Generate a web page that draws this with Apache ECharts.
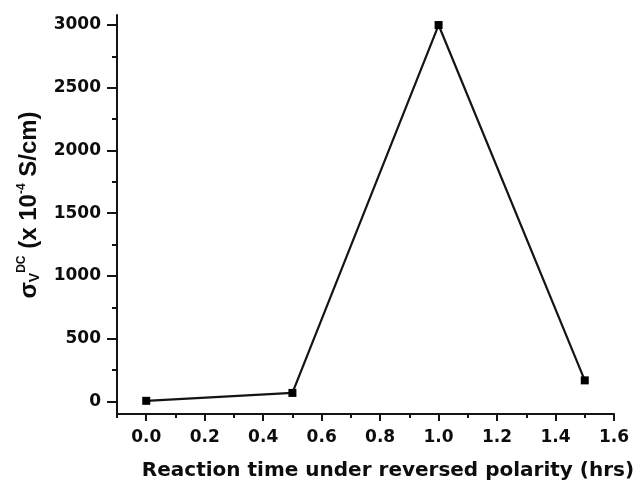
<!DOCTYPE html>
<html>
<head>
<meta charset="utf-8">
<script src="https://cdn.jsdelivr.net/npm/echarts@6/dist/echarts.min.js"></script>
<style>
  html, body { margin: 0; padding: 0; background: #fff; }
  #chart { width: 638px; height: 483px; }
</style>
</head>
<body>
<div id="chart"></div>
<script>
// Reaction time under reversed polarity (hrs)
const reactionTimes = [0.0, 0.5, 1.0, 1.5];
// DC conductivity, x 10^-4 S/cm
const conductivity = [5, 68, 3000, 168];

// Axis ticks and labels
const xMajorTicks = [0.0, 0.2, 0.4, 0.6, 0.8, 1.0, 1.2, 1.4, 1.6];
const xMinorTicks = [-0.1, 0.1, 0.3, 0.5, 0.7, 0.9, 1.1, 1.3, 1.5];
const yMajorTicks = [0, 500, 1000, 1500, 2000, 2500, 3000];
const yMinorTicks = [250, 750, 1250, 1750, 2250, 2750];

const INK = '#141414';
const tickFont = { fontFamily: 'DejaVu Sans', fontWeight: 'bold', fontSize: 17, color: '#0d0d0d' };

const xRange = { min: -0.1, max: 1.6 };
const yRange = { min: -100, max: 3080 };

const chart = echarts.init(document.getElementById('chart'), null, { renderer: 'canvas' });

chart.setOption({
  animation: false,
  backgroundColor: '#fff',
  grid: { left: 117, right: 24, top: 15, bottom: 69, containLabel: false, outerBoundsMode: 'none' },
  xAxis: [
    {
      type: 'value',
      min: xRange.min, max: xRange.max,
      name: 'Reaction time under reversed polarity (hrs)',
      nameLocation: 'middle',
      nameGap: 47,
      nameTextStyle: {
        fontFamily: 'DejaVu Sans', fontWeight: 'bold', fontSize: 20, color: '#0d0d0d',
        padding: [0, 0, 0, 45]
      },
      splitLine: { show: false },
      axisLine: { show: true, onZero: false, lineStyle: { color: INK, width: 2 } },
      axisTick: { show: true, inside: false, length: 7, customValues: xMajorTicks, lineStyle: { color: INK, width: 2 } },
      axisLabel: {
        show: true, margin: 15, customValues: xMajorTicks,
        formatter: v => v.toFixed(1), ...tickFont
      }
    },
    {
      type: 'value',
      min: xRange.min, max: xRange.max,
      position: 'bottom',
      splitLine: { show: false },
      axisLine: { show: false, onZero: false },
      axisTick: { show: true, inside: false, length: 4, customValues: xMinorTicks, lineStyle: { color: INK, width: 2 } },
      axisLabel: { show: false }
    }
  ],
  yAxis: [
    {
      type: 'value',
      min: yRange.min, max: yRange.max,
      splitLine: { show: false },
      axisLine: { show: true, onZero: false, lineStyle: { color: INK, width: 2 } },
      axisTick: { show: true, inside: false, length: 10, customValues: yMajorTicks, lineStyle: { color: INK, width: 2 } },
      axisLabel: { show: true, margin: 16, customValues: yMajorTicks, formatter: v => String(v), ...tickFont }
    },
    {
      type: 'value',
      min: yRange.min, max: yRange.max,
      position: 'left',
      splitLine: { show: false },
      axisLine: { show: false, onZero: false },
      axisTick: { show: true, inside: false, length: 5, customValues: yMinorTicks, lineStyle: { color: INK, width: 2 } },
      axisLabel: { show: false }
    }
  ],
  graphic: [
    {
      // rotated y-axis title: σ_V^DC (x 10^-4 S/cm)
      type: 'text',
      x: 29,
      y: 205,
      rotation: Math.PI / 2,
      style: {
        text: '{s|σ}{sub|V}{sup|DC}{m| (x 10}{sup|-4}{m| S/cm)}',
        align: 'center',
        verticalAlign: 'middle',
        fill: '#0d0d0d',
        rich: {
          s:   { fontFamily: 'Liberation Sans', fontWeight: 'bold', fontSize: 24, lineHeight: 26, fill: '#0d0d0d' },
          m:   { fontFamily: 'Liberation Sans', fontWeight: 'bold', fontSize: 24, lineHeight: 26, fill: '#0d0d0d' },
          sub: { fontFamily: 'Liberation Sans', fontWeight: 'bold', fontSize: 14, lineHeight: 12, verticalAlign: 'bottom', fill: '#0d0d0d' },
          sup: { fontFamily: 'Liberation Sans', fontWeight: 'bold', fontSize: 12, lineHeight: 11, verticalAlign: 'top', fill: '#0d0d0d' }
        }
      }
    }
  ],
  series: [
    {
      type: 'line',
      xAxisIndex: 0,
      yAxisIndex: 0,
      data: reactionTimes.map((t, i) => [t, conductivity[i]]),
      symbol: 'rect',
      symbolSize: 8,
      showSymbol: true,
      lineStyle: { color: INK, width: 2.2 },
      itemStyle: { color: '#000' },
      emphasis: { disabled: true }
    }
  ]
});
</script>
</body>
</html>
